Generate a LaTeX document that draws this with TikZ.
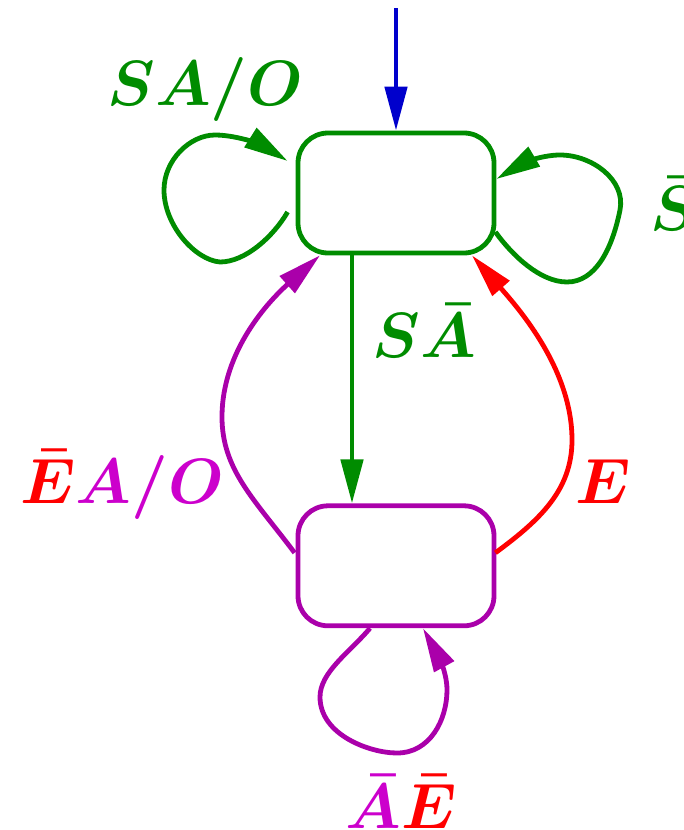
\RequirePackage{fix-cm}
\documentclass[tikz,border=0pt]{standalone}
\usepackage{xcolor}
\definecolor{fsmgreen}{HTML}{008C00}
\definecolor{fsmpurple}{HTML}{AA00AA}
\definecolor{fsmmagenta}{HTML}{CC00CC}
\definecolor{fsmblue}{HTML}{0000CC}
\usepackage{tikz}
\usetikzlibrary{positioning, arrows.meta}

\begin{document}
\begin{tikzpicture}[
  x=0.5pt, y=-0.5pt,
  box/.style={draw=#1, rounded corners=15pt, line width=2.4pt, minimum width=98pt,
    minimum height=60pt},
  arr/.style={-{Triangle[length=22pt, width=11pt]}, line width=2.4pt, draw=#1},
  lbl/.style={anchor=base west, inner sep=0pt, text=#1,
    font=\fontsize{32}{38}\selectfont\boldmath},
]
  \useasboundingbox (0,0) rectangle (684,830);

  \node[box=fsmgreen] (upper) at (396,193) {};
  \node[box=fsmpurple, below=124pt of upper] (lower) {};
  \coordinate (start) at (396,8);

  % initial arrow
  \draw[arr=fsmblue] (start) -- (upper.north);

  % self loops of the upper state
  \draw[arr=fsmgreen] ([shift={(-8,19)}]upper.west)
    .. controls (273,237) and (245,262) .. (220,262)
    .. controls (195,260) and (164,225) .. (164,190)
    .. controls (164,160) and (190,135) .. (215,135)
    .. controls (240,135) and (267,148) .. ([shift={(-8,-32)}]upper.west);
  \draw[arr=fsmgreen] ([shift={(-1,39)}]upper.east)
    .. controls (512,255) and (540,282) .. (567,282)
    .. controls (595,282) and (612,250) .. (620,210)
    .. controls (626,180) and (592,155) .. (560,155)
    .. controls (540,155) and (520,165) .. ([shift={(0,-14)}]upper.east);

  % transitions between the states
  \draw[arr=fsmgreen] ([xshift=-22pt]upper.south) -- ([xshift=-22pt]lower.north);
  \draw[arr=fsmpurple] ([shift={(-1,-13)}]lower.west)
    .. controls (255,500) and (222,470) .. (222,417)
    .. controls (222,350) and (270,300) .. ([xshift=-38pt]upper.south);
  \draw[arr=red] ([shift={(-1,-13)}]lower.east)
    .. controls (540,520) and (572,490) .. (572,440)
    .. controls (572,370) and (520,310) .. ([xshift=38pt]upper.south);

  % self loop of the lower state
  \draw[arr=fsmpurple] ([xshift=-13pt]lower.south)
    .. controls (350,652) and (320,672) .. (320,697)
    .. controls (320,735) and (370,753) .. (397,753)
    .. controls (430,753) and (447,720) .. (447,690)
    .. controls (447,670) and (435,650) .. ([xshift=13.5pt]lower.south);

  % labels
  \node[lbl=fsmgreen] (lblsao) at (107,105) {$SA/O$};
  \node[lbl=fsmgreen] (lblnots) at (650,230) {$\bar{S}$};
  \node[lbl=fsmgreen] (lblsnota) at (372,357) {$S\bar{A}$};
  \node[lbl=fsmmagenta] (lblneao) at (20,503) {$\color{red}\bar{E}\color{fsmmagenta}A/O$};
  \node[lbl=red] (lble) at (575,503) {$E$};
  \node[lbl=fsmmagenta] (lblnane) at (345,828) {$\bar{A}\color{red}\bar{E}$};
\end{tikzpicture}
\end{document}
